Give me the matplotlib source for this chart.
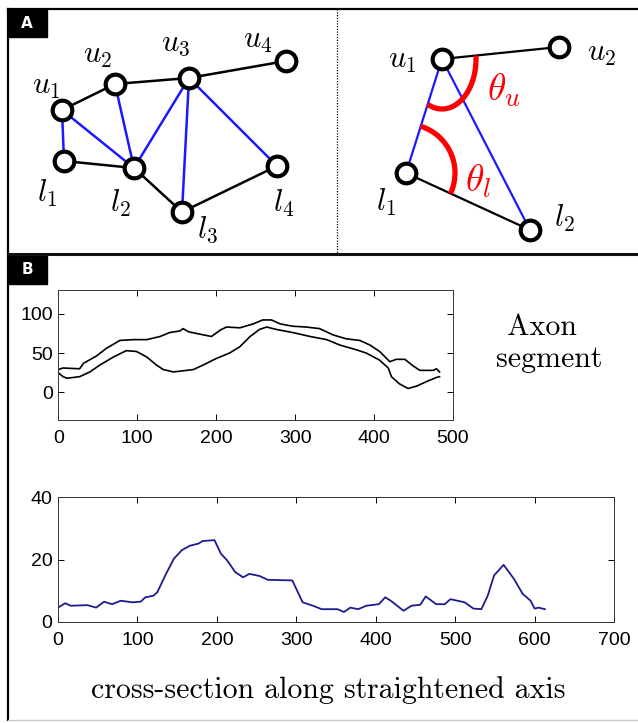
import numpy as np
import matplotlib.pyplot as plt
from matplotlib.patches import Rectangle

plt.rcParams['mathtext.fontset'] = 'cm'
plt.rcParams['font.family'] = ['Liberation Sans', 'DejaVu Sans']

# Panel A (left): ladder graph, positions in figure pixels
upper_x = [62, 115, 189, 286]
upper_y = [110, 84, 78, 61]
lower_x = [64, 134, 182, 277]
lower_y = [161, 168, 212, 166]
upper_names = ['$u_1$', '$u_2$', '$u_3$', '$u_4$']
lower_names = ['$l_1$', '$l_2$', '$l_3$', '$l_4$']
upper_label_x = [46, 98, 176, 258]
upper_label_y = [86, 55, 43, 40]
lower_label_x = [47, 120, 207, 284]
lower_label_y = [193, 203, 230, 203]
rungs = [(0, 0), (0, 1), (1, 1), (2, 1), (2, 2), (2, 3)]

# Panel A (right): angle detail (u1, u2, l1, l2)
pair_x = [442, 559, 406, 530]
pair_y = [59, 47, 173, 230]
pair_names = ['$u_1$', '$u_2$', '$l_1$', '$l_2$']
pair_label_x = [402, 602, 386, 564]
pair_label_y = [60, 53, 202, 218]

# Panel B: axon boundaries
upper_bx = [0, 6, 27, 32, 48, 61, 78, 95, 112, 129, 141, 154, 158, 165, 179, 194,
            205, 213, 230, 247, 259, 270, 281, 297, 314, 331, 348, 365, 382, 395,
            407, 420, 428, 439, 449, 458, 475, 479, 483]
upper_by = [29, 31, 30, 37, 46, 56, 66, 67, 67, 71, 76, 78, 81, 77, 74, 71,
            79, 83, 82, 87, 92, 92, 87, 84, 83, 81, 73, 68, 66, 60,
            52, 39, 42, 42, 34, 28, 28, 30, 26]
lower_bx = [0, 6, 11, 27, 40, 53, 70, 86, 99, 112, 124, 133, 146, 171, 184, 200,
            217, 230, 243, 255, 264, 276, 297, 319, 340, 357, 378, 390, 407, 418,
            422, 432, 443, 454, 467, 479, 483]
lower_by = [25, 20, 18, 20, 26, 35, 45, 53, 52, 45, 35, 29, 26, 29, 35, 43,
            50, 58, 71, 80, 83, 80, 76, 71, 67, 60, 54, 50, 41, 31,
            20, 11, 5, 8, 14, 19, 20]

# Panel B: cross-section along straightened axis
cs_x = [0, 9, 16, 37, 48, 58, 68, 79, 94, 104, 110, 120, 125, 135, 146, 156, 166,
        177, 182, 197, 205, 213, 223, 233, 241, 254, 264, 295, 308, 321, 332, 352,
        360, 368, 378, 388, 404, 412, 419, 435, 445, 456, 463, 476, 487, 494, 512,
        523, 533, 541, 549, 561, 574, 585, 595, 600, 605, 613]
cs_y = [4.6, 6.0, 5.2, 5.4, 4.6, 6.5, 5.7, 6.8, 6.3, 6.5, 7.9, 8.4, 9.5, 14.9, 20.3,
        23.0, 24.4, 25.1, 25.9, 26.2, 21.9, 19.7, 16.0, 14.3, 15.4, 14.7, 13.5, 13.3,
        6.3, 5.2, 4.1, 4.1, 3.2, 4.6, 4.1, 5.2, 5.7, 7.9, 6.8, 3.6, 5.2, 5.5, 8.2,
        5.7, 5.7, 7.3, 6.3, 4.3, 4.1, 8.4, 14.9, 18.3, 13.8, 9.0, 6.8, 4.3, 4.6, 4.1]

W, H = 638, 723
fig = plt.figure(figsize=(W / 100, H / 100), dpi=100)

# full-figure canvas in pixel units for the diagrams and frames
canvas = fig.add_axes([0, 0, 1, 1])
canvas.set_xlim(0, W)
canvas.set_ylim(H, 0)
canvas.axis('off')

# frames
canvas.plot([8, W], [9, 9], color='black', lw=1.6)
canvas.plot([8, 8], [9, 720], color='black', lw=1.6)
canvas.plot([8, W], [254, 254], color='#111111', lw=2.2)
canvas.plot([337, 337], [9, 254], color='black', lw=0.9, ls=(0, (1, 1.2)))
canvas.plot([8, W], [720, 720], color='#cccccc', lw=1)
for lab, y0 in [('A', 9), ('B', 256)]:
    canvas.add_patch(Rectangle((8, y0), 39, 28, color='black'))
    canvas.text(27, y0 + 14, lab, color='white', fontsize=11, fontweight='bold',
                ha='center', va='center', family='DejaVu Sans')

node_style = dict(s=200, facecolor='white', edgecolor='black', linewidths=3.0, zorder=5)
label_style = dict(fontsize=22, ha='center', va='center')

# left graph
canvas.plot(upper_x, upper_y, color='black', lw=1.8)
canvas.plot(lower_x, lower_y, color='black', lw=1.8)
for i, j in rungs:
    canvas.plot([upper_x[i], lower_x[j]], [upper_y[i], lower_y[j]], color='#1a1aff', lw=1.8)
canvas.scatter(upper_x + lower_x, upper_y + lower_y, **node_style)
for name, x, y in zip(upper_names + lower_names, upper_label_x + lower_label_x,
                      upper_label_y + lower_label_y):
    canvas.text(x, y, name, **label_style)

# right detail
canvas.plot([pair_x[0], pair_x[1]], [pair_y[0], pair_y[1]], color='black', lw=1.6)
canvas.plot([pair_x[2], pair_x[3]], [pair_y[2], pair_y[3]], color='black', lw=1.6)
canvas.plot([pair_x[0], pair_x[2]], [pair_y[0], pair_y[2]], color='#1a1aff', lw=1.6)
canvas.plot([pair_x[0], pair_x[3]], [pair_y[0], pair_y[3]], color='#1a1aff', lw=1.6)


def angle_arc(c, p, q, rx, ry):
    a0 = np.arctan2(p[1] - c[1], p[0] - c[0])
    a1 = np.arctan2(q[1] - c[1], q[0] - c[0])
    t = np.linspace(a0, a1, 60)
    r = rx * ry / np.sqrt((ry * np.cos(t)) ** 2 + (rx * np.sin(t)) ** 2)
    return c[0] + r * np.cos(t), c[1] + r * np.sin(t)


pts = list(zip(pair_x, pair_y))
ax_, ay_ = angle_arc(pts[0], pts[1], pts[2], 34, 50)
canvas.plot(ax_, ay_, color='red', lw=3.8, zorder=4, solid_capstyle='butt')
ax_, ay_ = angle_arc(pts[2], pts[0], pts[3], 49, 49)
canvas.plot(ax_, ay_, color='red', lw=3.8, zorder=4, solid_capstyle='butt')
canvas.scatter(pair_x, pair_y, **node_style)
for name, x, y in zip(pair_names, pair_label_x, pair_label_y):
    canvas.text(x, y, name, **label_style)
canvas.text(504, 90, r'$\theta_u$', color='red', fontsize=27, ha='center', va='center')
canvas.text(478, 181, r'$\theta_l$', color='red', fontsize=27, ha='center', va='center')

# panel B plots
tick_style = dict(direction='in', top=True, right=True, length=4, width=0.7,
                  labelsize=14)

ax1 = fig.add_axes([58.3 / W, 1 - 420 / H, (453 - 58.3) / W, 130 / H])
ax1.plot(upper_bx, upper_by, color='black', lw=1.2)
ax1.plot(lower_bx, lower_by, color='black', lw=1.2)
ax1.set_xlim(0, 500)
ax1.set_ylim(-35, 130)
ax1.set_xticks([0, 100, 200, 300, 400, 500])
ax1.set_yticks([0, 50, 100])
ax1.tick_params(pad=4, **tick_style)
ax1.tick_params(axis='x', pad=7)

ax2 = fig.add_axes([58 / W, 1 - 622 / H, 556 / W, 125 / H])
ax2.plot(cs_x, cs_y, color='#1c1c8c', lw=1.3)
ax2.set_xlim(0, 700)
ax2.set_ylim(0, 40)
ax2.set_xticks(np.arange(0, 800, 100))
ax2.set_yticks([0, 20, 40])
ax2.tick_params(pad=4, **tick_style)
ax2.tick_params(axis='x', pad=7)

for ax in (ax1, ax2):
    for s in ax.spines.values():
        s.set_linewidth(0.7)
        s.set_color('#333333')

canvas.text(542, 327, 'Axon', family='cmr10', fontsize=21.5, ha='center', va='center')
canvas.text(549, 359, 'segment', family='cmr10', fontsize=21.5, ha='center', va='center')
canvas.text(328, 690, 'cross-section along straightened axis', family='cmr10',
            fontsize=21.5, ha='center', va='center')

fig.savefig('out.png', dpi=100)
